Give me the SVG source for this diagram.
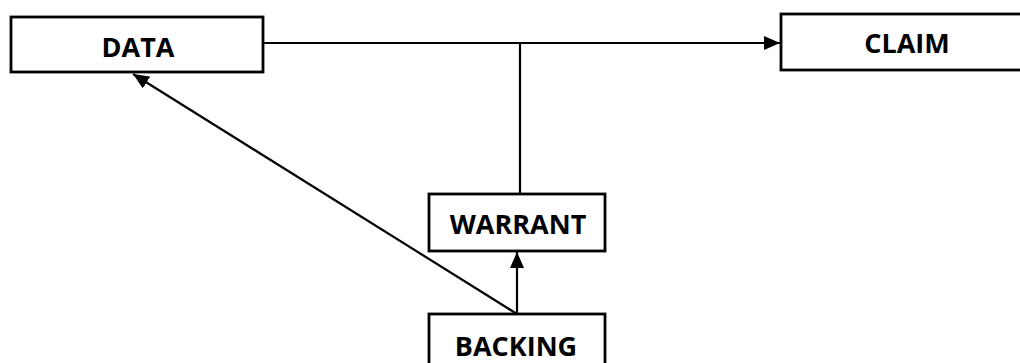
<svg xmlns="http://www.w3.org/2000/svg" width="1020" height="363" viewBox="0 0 1020 363">
<style>
.box{fill:#fff;stroke:#000;stroke-width:2.8}
.lbl{font-family:"Open Sans","DejaVu Sans",sans-serif;font-weight:bold;font-size:27px;fill:#000;text-anchor:middle}
.ln{fill:none;stroke:#000;stroke-width:2.2}
</style>
<defs>
<marker id="ah" viewBox="0 0 16 14" refX="16" refY="7" markerWidth="16" markerHeight="14" orient="auto" markerUnits="userSpaceOnUse">
<path d="M0,0 L16,7 L0,14 z" fill="#000"/>
</marker>
</defs>
<g id="connectors">
<line class="ln" x1="264" y1="43" x2="780" y2="43" marker-end="url(#ah)"/>
<line class="ln" x1="520" y1="43" x2="520" y2="194"/>
<line class="ln" x1="517" y1="314" x2="517" y2="252" marker-end="url(#ah)"/>
<line class="ln" x1="517" y1="314" x2="133" y2="74" marker-end="url(#ah)"/>
</g>
<g id="data">
<rect class="box" x="11" y="17" width="252" height="55"/>
<text class="lbl" x="138" y="57">DATA</text>
</g>
<g id="claim">
<rect class="box" x="781" y="14" width="250" height="56"/>
<text class="lbl" x="907" y="53">CLAIM</text>
</g>
<g id="warrant">
<rect class="box" x="429" y="194" width="176" height="57"/>
<text class="lbl" x="518" y="234">WARRANT</text>
</g>
<g id="backing">
<rect class="box" x="429" y="314" width="176" height="60"/>
<text class="lbl" x="516" y="356">BACKING</text>
</g>
</svg>
